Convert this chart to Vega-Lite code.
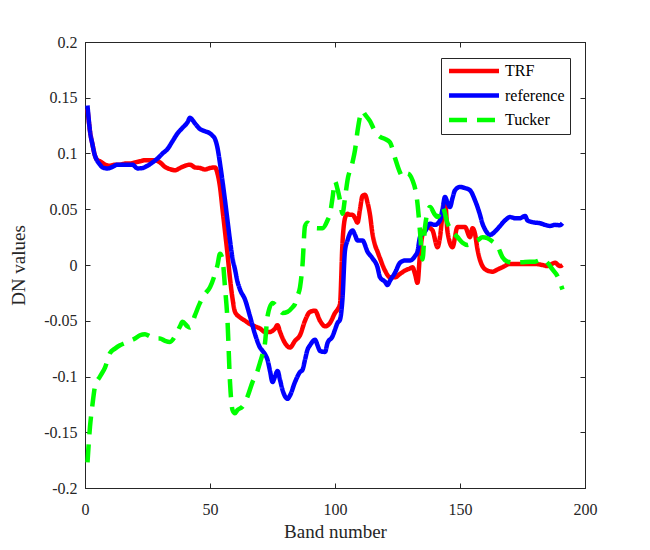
{
  "$schema": "https://vega.github.io/schema/vega-lite/v6.json",
  "width": 500,
  "height": 446,
  "autosize": {"type": "none"},
  "padding": {"left": 85, "top": 42, "right": 65, "bottom": 62},
  "background": "white",
  "config": {
    "font": "Liberation Serif",
    "view": {"stroke": "#262626", "strokeWidth": 1},
    "axis": {
      "grid": false,
      "labelFlush": false,
      "labelFont": "Liberation Serif",
      "titleFont": "Liberation Serif",
      "labelFontSize": 16,
      "titleFontSize": 19,
      "titleFontWeight": "normal",
      "labelColor": "#262626",
      "titleColor": "#262626",
      "domainColor": "#262626",
      "tickColor": "#262626",
      "tickSize": -5
    },
    "legend": {
      "labelFont": "Liberation Serif",
      "labelFontSize": 16,
      "labelColor": "#000000"
    }
  },
  "data": {
    "values": [
      {"band": 1, "series": "TRF", "value": 0.14},
      {"band": 2, "series": "TRF", "value": 0.12},
      {"band": 3, "series": "TRF", "value": 0.108},
      {"band": 4, "series": "TRF", "value": 0.098},
      {"band": 5, "series": "TRF", "value": 0.094},
      {"band": 6, "series": "TRF", "value": 0.093},
      {"band": 8, "series": "TRF", "value": 0.09},
      {"band": 10, "series": "TRF", "value": 0.089},
      {"band": 12, "series": "TRF", "value": 0.09},
      {"band": 14, "series": "TRF", "value": 0.09},
      {"band": 16, "series": "TRF", "value": 0.091},
      {"band": 18, "series": "TRF", "value": 0.091},
      {"band": 20, "series": "TRF", "value": 0.092},
      {"band": 22, "series": "TRF", "value": 0.093},
      {"band": 24, "series": "TRF", "value": 0.094},
      {"band": 26, "series": "TRF", "value": 0.094},
      {"band": 28, "series": "TRF", "value": 0.094},
      {"band": 30, "series": "TRF", "value": 0.092},
      {"band": 32, "series": "TRF", "value": 0.088},
      {"band": 34, "series": "TRF", "value": 0.086},
      {"band": 36, "series": "TRF", "value": 0.085},
      {"band": 38, "series": "TRF", "value": 0.087},
      {"band": 40, "series": "TRF", "value": 0.089},
      {"band": 42, "series": "TRF", "value": 0.09},
      {"band": 44, "series": "TRF", "value": 0.0875},
      {"band": 46, "series": "TRF", "value": 0.087},
      {"band": 48, "series": "TRF", "value": 0.0857},
      {"band": 50, "series": "TRF", "value": 0.087},
      {"band": 52, "series": "TRF", "value": 0.0875},
      {"band": 53, "series": "TRF", "value": 0.082},
      {"band": 54, "series": "TRF", "value": 0.07},
      {"band": 55, "series": "TRF", "value": 0.05},
      {"band": 56, "series": "TRF", "value": 0.03},
      {"band": 57, "series": "TRF", "value": 0.01},
      {"band": 58, "series": "TRF", "value": -0.012},
      {"band": 59, "series": "TRF", "value": -0.03},
      {"band": 60, "series": "TRF", "value": -0.042},
      {"band": 62, "series": "TRF", "value": -0.047},
      {"band": 64, "series": "TRF", "value": -0.05},
      {"band": 66, "series": "TRF", "value": -0.053},
      {"band": 68, "series": "TRF", "value": -0.055},
      {"band": 70, "series": "TRF", "value": -0.057},
      {"band": 72, "series": "TRF", "value": -0.06},
      {"band": 74, "series": "TRF", "value": -0.06},
      {"band": 76, "series": "TRF", "value": -0.057},
      {"band": 77, "series": "TRF", "value": -0.054},
      {"band": 78, "series": "TRF", "value": -0.06},
      {"band": 80, "series": "TRF", "value": -0.07},
      {"band": 82, "series": "TRF", "value": -0.074},
      {"band": 84, "series": "TRF", "value": -0.068},
      {"band": 86, "series": "TRF", "value": -0.063},
      {"band": 88, "series": "TRF", "value": -0.05},
      {"band": 90, "series": "TRF", "value": -0.042},
      {"band": 92, "series": "TRF", "value": -0.041},
      {"band": 94, "series": "TRF", "value": -0.05},
      {"band": 96, "series": "TRF", "value": -0.055},
      {"band": 98, "series": "TRF", "value": -0.052},
      {"band": 100, "series": "TRF", "value": -0.043},
      {"band": 101, "series": "TRF", "value": -0.04},
      {"band": 102, "series": "TRF", "value": -0.035},
      {"band": 103, "series": "TRF", "value": 0.02},
      {"band": 104, "series": "TRF", "value": 0.042},
      {"band": 105, "series": "TRF", "value": 0.046},
      {"band": 106, "series": "TRF", "value": 0.045},
      {"band": 107, "series": "TRF", "value": 0.045},
      {"band": 108, "series": "TRF", "value": 0.042},
      {"band": 109, "series": "TRF", "value": 0.038},
      {"band": 110, "series": "TRF", "value": 0.05},
      {"band": 111, "series": "TRF", "value": 0.062},
      {"band": 112, "series": "TRF", "value": 0.063},
      {"band": 113, "series": "TRF", "value": 0.056},
      {"band": 114, "series": "TRF", "value": 0.045},
      {"band": 115, "series": "TRF", "value": 0.028},
      {"band": 116, "series": "TRF", "value": 0.018},
      {"band": 117, "series": "TRF", "value": 0.012},
      {"band": 118, "series": "TRF", "value": 0.006},
      {"band": 120, "series": "TRF", "value": -0.005},
      {"band": 122, "series": "TRF", "value": -0.011},
      {"band": 124, "series": "TRF", "value": -0.011},
      {"band": 126, "series": "TRF", "value": -0.008},
      {"band": 128, "series": "TRF", "value": -0.005},
      {"band": 130, "series": "TRF", "value": -0.003},
      {"band": 131, "series": "TRF", "value": -0.002},
      {"band": 132, "series": "TRF", "value": -0.008},
      {"band": 133, "series": "TRF", "value": -0.016},
      {"band": 134, "series": "TRF", "value": 0.01},
      {"band": 135, "series": "TRF", "value": 0.027},
      {"band": 137, "series": "TRF", "value": 0.034},
      {"band": 139, "series": "TRF", "value": 0.031},
      {"band": 141, "series": "TRF", "value": 0.016},
      {"band": 142, "series": "TRF", "value": 0.025},
      {"band": 143, "series": "TRF", "value": 0.045},
      {"band": 144, "series": "TRF", "value": 0.058},
      {"band": 145, "series": "TRF", "value": 0.03},
      {"band": 147, "series": "TRF", "value": 0.016},
      {"band": 149, "series": "TRF", "value": 0.034},
      {"band": 152, "series": "TRF", "value": 0.034},
      {"band": 154, "series": "TRF", "value": 0.025},
      {"band": 155, "series": "TRF", "value": 0.033},
      {"band": 156, "series": "TRF", "value": 0.028},
      {"band": 157, "series": "TRF", "value": 0.014},
      {"band": 159, "series": "TRF", "value": -0.001},
      {"band": 161, "series": "TRF", "value": -0.005},
      {"band": 163, "series": "TRF", "value": -0.006},
      {"band": 165, "series": "TRF", "value": -0.004},
      {"band": 167, "series": "TRF", "value": -0.002},
      {"band": 170, "series": "TRF", "value": 0.001},
      {"band": 175, "series": "TRF", "value": 0.001},
      {"band": 180, "series": "TRF", "value": 0.001},
      {"band": 183, "series": "TRF", "value": 0.0},
      {"band": 185, "series": "TRF", "value": -0.001},
      {"band": 188, "series": "TRF", "value": 0.002},
      {"band": 190, "series": "TRF", "value": -0.001},
      {"band": 191, "series": "TRF", "value": 0.0},

      {"band": 1, "series": "reference", "value": 0.143},
      {"band": 2, "series": "reference", "value": 0.12},
      {"band": 3, "series": "reference", "value": 0.108},
      {"band": 4, "series": "reference", "value": 0.098},
      {"band": 5, "series": "reference", "value": 0.093},
      {"band": 6, "series": "reference", "value": 0.09},
      {"band": 7, "series": "reference", "value": 0.0875},
      {"band": 9, "series": "reference", "value": 0.0866},
      {"band": 11, "series": "reference", "value": 0.088},
      {"band": 13, "series": "reference", "value": 0.09},
      {"band": 15, "series": "reference", "value": 0.09},
      {"band": 17, "series": "reference", "value": 0.09},
      {"band": 19, "series": "reference", "value": 0.09},
      {"band": 21, "series": "reference", "value": 0.0866},
      {"band": 23, "series": "reference", "value": 0.087},
      {"band": 25, "series": "reference", "value": 0.089},
      {"band": 27, "series": "reference", "value": 0.092},
      {"band": 29, "series": "reference", "value": 0.0955},
      {"band": 31, "series": "reference", "value": 0.1},
      {"band": 33, "series": "reference", "value": 0.104},
      {"band": 35, "series": "reference", "value": 0.111},
      {"band": 37, "series": "reference", "value": 0.118},
      {"band": 39, "series": "reference", "value": 0.123},
      {"band": 41, "series": "reference", "value": 0.128},
      {"band": 42, "series": "reference", "value": 0.132},
      {"band": 43, "series": "reference", "value": 0.13},
      {"band": 44, "series": "reference", "value": 0.127},
      {"band": 46, "series": "reference", "value": 0.122},
      {"band": 48, "series": "reference", "value": 0.12},
      {"band": 50, "series": "reference", "value": 0.118},
      {"band": 51, "series": "reference", "value": 0.116},
      {"band": 52, "series": "reference", "value": 0.113},
      {"band": 53, "series": "reference", "value": 0.105},
      {"band": 54, "series": "reference", "value": 0.091},
      {"band": 55, "series": "reference", "value": 0.075},
      {"band": 56, "series": "reference", "value": 0.058},
      {"band": 57, "series": "reference", "value": 0.04},
      {"band": 58, "series": "reference", "value": 0.022},
      {"band": 59, "series": "reference", "value": 0.006},
      {"band": 60, "series": "reference", "value": -0.004},
      {"band": 61, "series": "reference", "value": -0.015},
      {"band": 62, "series": "reference", "value": -0.022},
      {"band": 64, "series": "reference", "value": -0.031},
      {"band": 66, "series": "reference", "value": -0.046},
      {"band": 68, "series": "reference", "value": -0.062},
      {"band": 70, "series": "reference", "value": -0.074},
      {"band": 71, "series": "reference", "value": -0.077},
      {"band": 72, "series": "reference", "value": -0.08},
      {"band": 73, "series": "reference", "value": -0.085},
      {"band": 74, "series": "reference", "value": -0.095},
      {"band": 75, "series": "reference", "value": -0.105},
      {"band": 76, "series": "reference", "value": -0.1},
      {"band": 77, "series": "reference", "value": -0.095},
      {"band": 78, "series": "reference", "value": -0.103},
      {"band": 79, "series": "reference", "value": -0.112},
      {"band": 81, "series": "reference", "value": -0.12},
      {"band": 82, "series": "reference", "value": -0.117},
      {"band": 84, "series": "reference", "value": -0.105},
      {"band": 86, "series": "reference", "value": -0.096},
      {"band": 87, "series": "reference", "value": -0.094},
      {"band": 88, "series": "reference", "value": -0.085},
      {"band": 89, "series": "reference", "value": -0.076},
      {"band": 90, "series": "reference", "value": -0.072},
      {"band": 92, "series": "reference", "value": -0.067},
      {"band": 93, "series": "reference", "value": -0.072},
      {"band": 94, "series": "reference", "value": -0.077},
      {"band": 96, "series": "reference", "value": -0.078},
      {"band": 97, "series": "reference", "value": -0.07},
      {"band": 99, "series": "reference", "value": -0.064},
      {"band": 100, "series": "reference", "value": -0.058},
      {"band": 101, "series": "reference", "value": -0.052},
      {"band": 102, "series": "reference", "value": -0.049},
      {"band": 103, "series": "reference", "value": -0.03},
      {"band": 104, "series": "reference", "value": 0.013},
      {"band": 105, "series": "reference", "value": 0.022},
      {"band": 107, "series": "reference", "value": 0.031},
      {"band": 108, "series": "reference", "value": 0.027},
      {"band": 109, "series": "reference", "value": 0.022},
      {"band": 111, "series": "reference", "value": 0.022},
      {"band": 113, "series": "reference", "value": 0.012},
      {"band": 115, "series": "reference", "value": 0.006},
      {"band": 117, "series": "reference", "value": -0.002},
      {"band": 118, "series": "reference", "value": -0.011},
      {"band": 120, "series": "reference", "value": -0.015},
      {"band": 121, "series": "reference", "value": -0.018},
      {"band": 122, "series": "reference", "value": -0.014},
      {"band": 124, "series": "reference", "value": -0.007},
      {"band": 126, "series": "reference", "value": 0.002},
      {"band": 128, "series": "reference", "value": 0.004},
      {"band": 130, "series": "reference", "value": 0.004},
      {"band": 132, "series": "reference", "value": 0.008},
      {"band": 133, "series": "reference", "value": 0.012},
      {"band": 134, "series": "reference", "value": 0.025},
      {"band": 136, "series": "reference", "value": 0.03},
      {"band": 138, "series": "reference", "value": 0.037},
      {"band": 140, "series": "reference", "value": 0.036},
      {"band": 142, "series": "reference", "value": 0.04},
      {"band": 143, "series": "reference", "value": 0.05},
      {"band": 144, "series": "reference", "value": 0.061},
      {"band": 145, "series": "reference", "value": 0.056},
      {"band": 146, "series": "reference", "value": 0.052},
      {"band": 147, "series": "reference", "value": 0.06},
      {"band": 148, "series": "reference", "value": 0.067},
      {"band": 150, "series": "reference", "value": 0.07},
      {"band": 152, "series": "reference", "value": 0.069},
      {"band": 154, "series": "reference", "value": 0.067},
      {"band": 156, "series": "reference", "value": 0.058},
      {"band": 157, "series": "reference", "value": 0.052},
      {"band": 158, "series": "reference", "value": 0.045},
      {"band": 159, "series": "reference", "value": 0.037},
      {"band": 160, "series": "reference", "value": 0.032},
      {"band": 162, "series": "reference", "value": 0.027},
      {"band": 164, "series": "reference", "value": 0.03},
      {"band": 166, "series": "reference", "value": 0.035},
      {"band": 168, "series": "reference", "value": 0.04},
      {"band": 170, "series": "reference", "value": 0.043},
      {"band": 172, "series": "reference", "value": 0.042},
      {"band": 174, "series": "reference", "value": 0.042},
      {"band": 176, "series": "reference", "value": 0.044},
      {"band": 177, "series": "reference", "value": 0.04},
      {"band": 178, "series": "reference", "value": 0.039},
      {"band": 180, "series": "reference", "value": 0.038},
      {"band": 182, "series": "reference", "value": 0.0375},
      {"band": 184, "series": "reference", "value": 0.036},
      {"band": 186, "series": "reference", "value": 0.035},
      {"band": 188, "series": "reference", "value": 0.036},
      {"band": 190, "series": "reference", "value": 0.0357},
      {"band": 191, "series": "reference", "value": 0.0375},

      {"band": 1, "series": "Tucker", "value": -0.177},
      {"band": 2, "series": "Tucker", "value": -0.145},
      {"band": 3, "series": "Tucker", "value": -0.125},
      {"band": 4, "series": "Tucker", "value": -0.109},
      {"band": 6, "series": "Tucker", "value": -0.1},
      {"band": 8, "series": "Tucker", "value": -0.092},
      {"band": 10, "series": "Tucker", "value": -0.079},
      {"band": 12, "series": "Tucker", "value": -0.075},
      {"band": 14, "series": "Tucker", "value": -0.072},
      {"band": 16, "series": "Tucker", "value": -0.07},
      {"band": 18, "series": "Tucker", "value": -0.068},
      {"band": 20, "series": "Tucker", "value": -0.066},
      {"band": 22, "series": "Tucker", "value": -0.063},
      {"band": 24, "series": "Tucker", "value": -0.062},
      {"band": 26, "series": "Tucker", "value": -0.064},
      {"band": 28, "series": "Tucker", "value": -0.066},
      {"band": 30, "series": "Tucker", "value": -0.066},
      {"band": 32, "series": "Tucker", "value": -0.068},
      {"band": 34, "series": "Tucker", "value": -0.069},
      {"band": 36, "series": "Tucker", "value": -0.064},
      {"band": 38, "series": "Tucker", "value": -0.055},
      {"band": 39, "series": "Tucker", "value": -0.051},
      {"band": 41, "series": "Tucker", "value": -0.055},
      {"band": 42, "series": "Tucker", "value": -0.056},
      {"band": 44, "series": "Tucker", "value": -0.045},
      {"band": 46, "series": "Tucker", "value": -0.034},
      {"band": 48, "series": "Tucker", "value": -0.026},
      {"band": 50, "series": "Tucker", "value": -0.02},
      {"band": 52, "series": "Tucker", "value": -0.008},
      {"band": 53, "series": "Tucker", "value": 0.0},
      {"band": 54, "series": "Tucker", "value": 0.01},
      {"band": 55, "series": "Tucker", "value": 0.005},
      {"band": 56, "series": "Tucker", "value": -0.02},
      {"band": 57, "series": "Tucker", "value": -0.05},
      {"band": 58, "series": "Tucker", "value": -0.105},
      {"band": 59, "series": "Tucker", "value": -0.13},
      {"band": 60, "series": "Tucker", "value": -0.133},
      {"band": 61, "series": "Tucker", "value": -0.13},
      {"band": 63, "series": "Tucker", "value": -0.127},
      {"band": 65, "series": "Tucker", "value": -0.118},
      {"band": 67, "series": "Tucker", "value": -0.105},
      {"band": 69, "series": "Tucker", "value": -0.095},
      {"band": 70, "series": "Tucker", "value": -0.0875},
      {"band": 71, "series": "Tucker", "value": -0.08},
      {"band": 72, "series": "Tucker", "value": -0.07},
      {"band": 73, "series": "Tucker", "value": -0.046},
      {"band": 75, "series": "Tucker", "value": -0.034},
      {"band": 77, "series": "Tucker", "value": -0.038},
      {"band": 79, "series": "Tucker", "value": -0.043},
      {"band": 81, "series": "Tucker", "value": -0.042},
      {"band": 83, "series": "Tucker", "value": -0.038},
      {"band": 84, "series": "Tucker", "value": -0.035},
      {"band": 85, "series": "Tucker", "value": -0.028},
      {"band": 86, "series": "Tucker", "value": -0.02},
      {"band": 87, "series": "Tucker", "value": 0.0},
      {"band": 88, "series": "Tucker", "value": 0.035},
      {"band": 89, "series": "Tucker", "value": 0.038},
      {"band": 91, "series": "Tucker", "value": 0.034},
      {"band": 93, "series": "Tucker", "value": 0.033},
      {"band": 95, "series": "Tucker", "value": 0.033},
      {"band": 97, "series": "Tucker", "value": 0.04},
      {"band": 98, "series": "Tucker", "value": 0.046},
      {"band": 99, "series": "Tucker", "value": 0.06},
      {"band": 100, "series": "Tucker", "value": 0.075},
      {"band": 101, "series": "Tucker", "value": 0.068},
      {"band": 102, "series": "Tucker", "value": 0.058},
      {"band": 103, "series": "Tucker", "value": 0.046},
      {"band": 104, "series": "Tucker", "value": 0.06},
      {"band": 105, "series": "Tucker", "value": 0.076},
      {"band": 107, "series": "Tucker", "value": 0.092},
      {"band": 108, "series": "Tucker", "value": 0.103},
      {"band": 109, "series": "Tucker", "value": 0.12},
      {"band": 110, "series": "Tucker", "value": 0.133},
      {"band": 111, "series": "Tucker", "value": 0.138},
      {"band": 112, "series": "Tucker", "value": 0.135},
      {"band": 114, "series": "Tucker", "value": 0.129},
      {"band": 116, "series": "Tucker", "value": 0.12},
      {"band": 118, "series": "Tucker", "value": 0.115},
      {"band": 120, "series": "Tucker", "value": 0.113},
      {"band": 122, "series": "Tucker", "value": 0.11},
      {"band": 124, "series": "Tucker", "value": 0.096},
      {"band": 126, "series": "Tucker", "value": 0.083},
      {"band": 127, "series": "Tucker", "value": 0.079},
      {"band": 129, "series": "Tucker", "value": 0.082},
      {"band": 131, "series": "Tucker", "value": 0.076},
      {"band": 133, "series": "Tucker", "value": 0.055},
      {"band": 134, "series": "Tucker", "value": 0.03},
      {"band": 135, "series": "Tucker", "value": 0.005},
      {"band": 136, "series": "Tucker", "value": 0.034},
      {"band": 138, "series": "Tucker", "value": 0.052},
      {"band": 140, "series": "Tucker", "value": 0.045},
      {"band": 141, "series": "Tucker", "value": 0.043},
      {"band": 143, "series": "Tucker", "value": 0.052},
      {"band": 145, "series": "Tucker", "value": 0.0375},
      {"band": 147, "series": "Tucker", "value": 0.03},
      {"band": 149, "series": "Tucker", "value": 0.025},
      {"band": 151, "series": "Tucker", "value": 0.02},
      {"band": 153, "series": "Tucker", "value": 0.018},
      {"band": 155, "series": "Tucker", "value": 0.02},
      {"band": 157, "series": "Tucker", "value": 0.022},
      {"band": 159, "series": "Tucker", "value": 0.025},
      {"band": 161, "series": "Tucker", "value": 0.024},
      {"band": 163, "series": "Tucker", "value": 0.021},
      {"band": 165, "series": "Tucker", "value": 0.017},
      {"band": 167, "series": "Tucker", "value": 0.007},
      {"band": 169, "series": "Tucker", "value": 0.003},
      {"band": 172, "series": "Tucker", "value": 0.002},
      {"band": 176, "series": "Tucker", "value": 0.0027},
      {"band": 180, "series": "Tucker", "value": 0.003},
      {"band": 183, "series": "Tucker", "value": 0.005},
      {"band": 185, "series": "Tucker", "value": 0.002},
      {"band": 187, "series": "Tucker", "value": -0.004},
      {"band": 189, "series": "Tucker", "value": -0.01},
      {"band": 191, "series": "Tucker", "value": -0.022}
    ]
  },
  "layer": [
    {
      "mark": {"type": "line", "strokeWidth": 4.5, "clip": true, "interpolate": "monotone"},
      "encoding": {
        "x": {
          "field": "band",
          "type": "quantitative",
          "scale": {"domain": [0, 200], "nice": false, "zero": false},
          "axis": {
            "orient": "bottom",
            "title": "Band number",
            "values": [0, 50, 100, 150, 200],
            "labelPadding": 18,
            "titlePadding": 5
          }
        },
        "y": {
          "field": "value",
          "type": "quantitative",
          "scale": {"domain": [-0.2, 0.2], "nice": false, "zero": false},
          "axis": {
            "orient": "left",
            "title": "DN values",
            "values": [-0.2, -0.15, -0.1, -0.05, 0, 0.05, 0.1, 0.15, 0.2],
            "labelExpr": "replace(format(datum.value, '~g'), '\u2212', '-')",
            "labelPadding": 13,
            "titlePadding": 15
          }
        },
        "color": {
          "field": "series",
          "type": "nominal",
          "scale": {"domain": ["TRF", "reference", "Tucker"], "range": ["#ff0000", "#0000ff", "#00ff00"]},
          "legend": {
            "title": null,
            "orient": "none",
            "legendX": 356,
            "legendY": 16,
            "strokeColor": "#262626",
            "fillColor": "white",
            "padding": 5,
            "rowPadding": 6.5,
            "symbolType": "M-1,0H9",
            "symbolSize": 100,
            "symbolStrokeWidth": 4.5,
            "labelOffset": 43
          }
        },
        "strokeDash": {
          "field": "series",
          "type": "nominal",
          "scale": {"domain": ["TRF", "reference", "Tucker"], "range": [[1, 0], [1, 0], [18, 10]]},
          "legend": {
            "title": null,
            "orient": "none",
            "legendX": 356,
            "legendY": 16
          }
        }
      }
    },
    {
      "mark": {"type": "line", "opacity": 0},
      "encoding": {
        "x": {
          "field": "band",
          "type": "quantitative",
          "axis": {"orient": "top", "title": null, "labels": false, "values": [0, 50, 100, 150, 200]}
        },
        "y": {
          "field": "value",
          "type": "quantitative",
          "axis": {"orient": "right", "title": null, "labels": false, "values": [-0.2, -0.15, -0.1, -0.05, 0, 0.05, 0.1, 0.15, 0.2]}
        },
        "detail": {"field": "series"}
      }
    }
  ],
  "resolve": {"axis": {"x": "independent", "y": "independent"}}
}
